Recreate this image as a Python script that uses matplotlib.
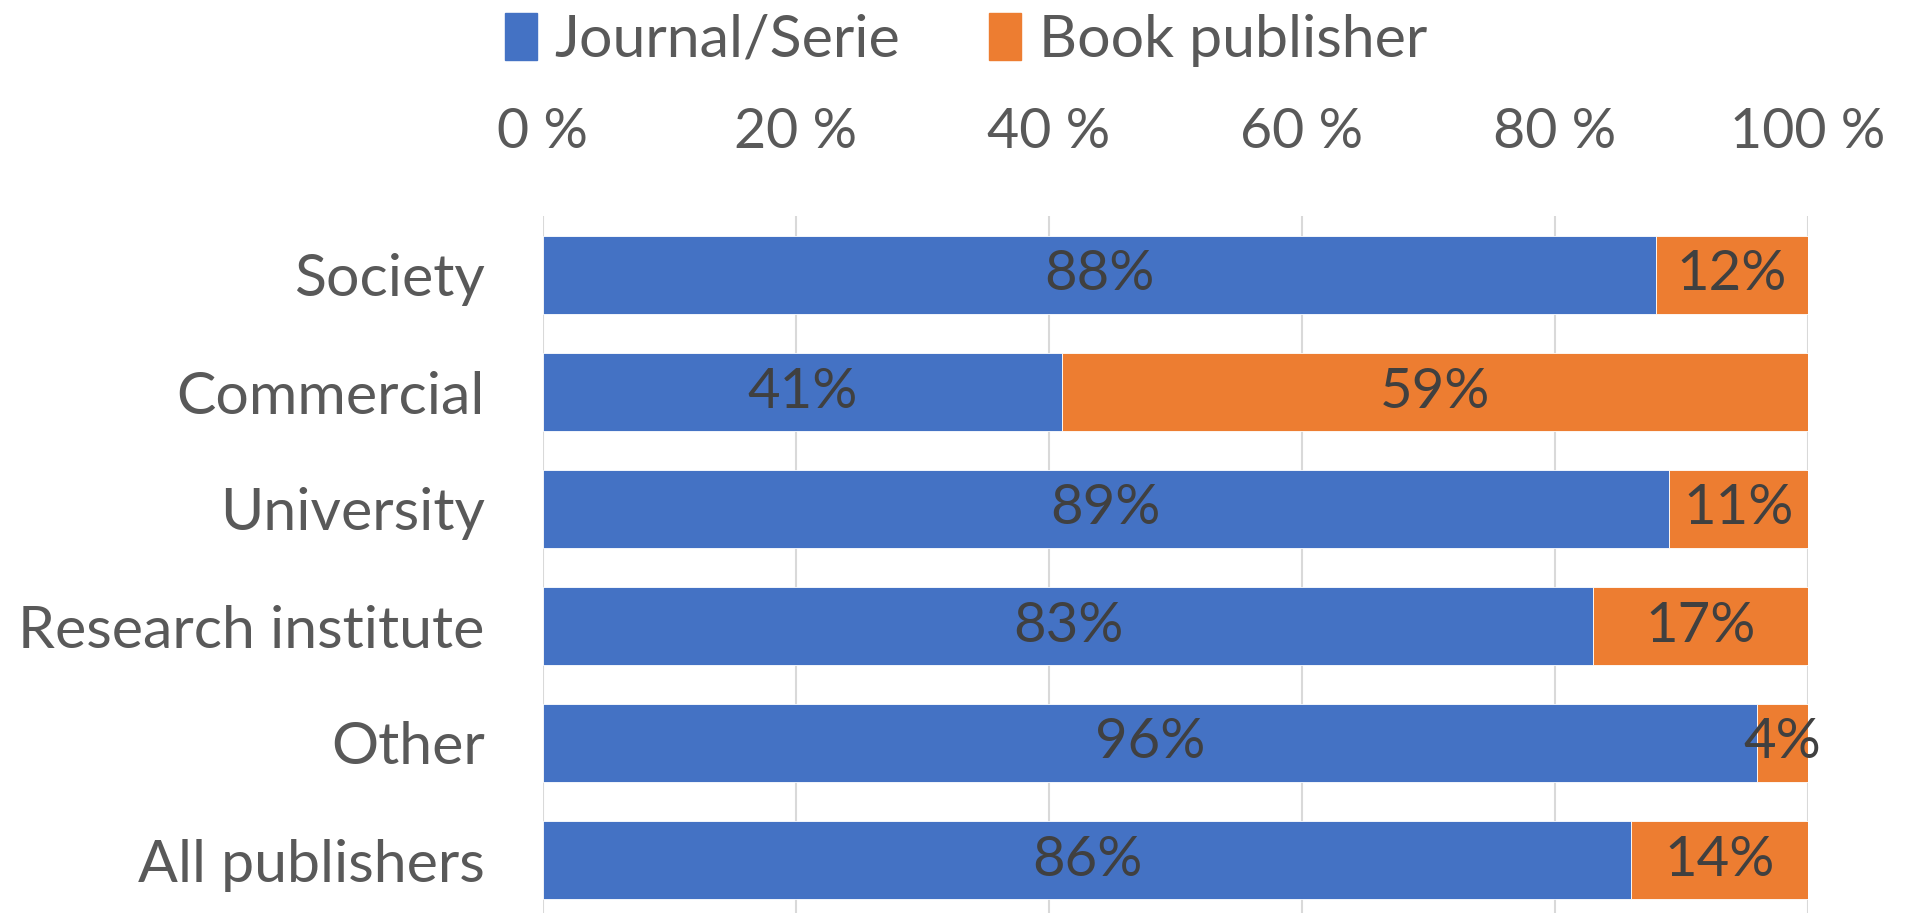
import numpy as np
import matplotlib.pyplot as plt
from matplotlib.patches import Patch

categories = ["Society", "Commercial", "University", "Research institute", "Other", "All publishers"]
journal = [88, 41, 89, 83, 96, 86]
book = [12, 59, 11, 17, 4, 14]
ticks = [0, 20, 40, 60, 80, 100]
tick_labels = ["0 %", "20 %", "40 %", "60 %", "80 %", "100 %"]

blue = "#4472C4"
orange = "#ED7D31"
grey_txt = "#595959"
lbl_txt = "#404040"

plt.rcParams["font.family"] = ["Lato", "DejaVu Sans"]

fig = plt.figure(figsize=(19.06, 9.13), dpi=100)
ax = fig.add_axes([543 / 1906, -5.5 / 913, 1265 / 1906, 702 / 913])

y = np.arange(len(categories))
h = 0.667
ax.barh(y, journal, height=h, color=blue, edgecolor="white", linewidth=0.6, zorder=3)
ax.barh(y, book, left=journal, height=h, color=orange, edgecolor="white", linewidth=0.6, zorder=3)

for i in range(len(categories)):
    ax.text(journal[i] / 2, y[i], f"{journal[i]}%", ha="center", va="center",
            fontsize=40.5, color=lbl_txt, zorder=4)
    ax.text(journal[i] + book[i] / 2, y[i], f"{book[i]}%", ha="center", va="center",
            fontsize=40.5, color=lbl_txt, zorder=4)

ax.set_xlim(0, 100)
ax.set_ylim(len(categories) - 0.5, -0.5)
ax.set_yticks(y)
ax.set_yticklabels(categories, fontsize=42.5, color=grey_txt)
ax.set_xticks(ticks)
ax.set_xticklabels(tick_labels, fontsize=40, color=grey_txt)
ax.xaxis.tick_top()
ax.tick_params(axis="x", length=0, pad=42)
ax.tick_params(axis="y", length=0, pad=42)
ax.grid(axis="x", color="#D9D9D9", linewidth=1.5, zorder=0)
for s in ax.spines.values():
    s.set_visible(False)

handles = [Patch(color=blue, label="Journal/Serie"), Patch(color=orange, label="Book publisher")]
fig.legend(handles=handles, loc="center", bbox_to_anchor=(966 / 1906, 1 - 40 / 913),
           ncol=2, frameon=False, fontsize=42.5, handlelength=0.55, handleheight=0.85,
           handletextpad=0.3, columnspacing=1.5, labelcolor=grey_txt)

fig.savefig("out.png", dpi=100)
